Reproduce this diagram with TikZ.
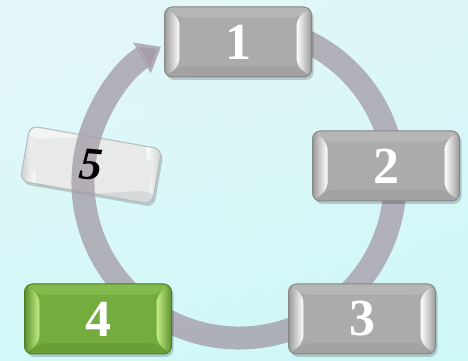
\documentclass[tikz,border=0pt]{standalone}
\usepackage{fontspec}
\setmainfont{Liberation Serif}
\usetikzlibrary{arrows.meta,shadows,shadings}

\definecolor{bgA}{HTML}{E6F6F8}
\definecolor{bgB}{HTML}{DDF6F7}
\definecolor{bgC}{HTML}{D3F8F8}
\definecolor{bgD}{HTML}{CEF7F7}
\definecolor{ringcol}{HTML}{A69FAA}
\definecolor{greyface}{HTML}{ABABAB}
\definecolor{greytop}{HTML}{B6B6B6}
\definecolor{greybot}{HTML}{A2A2A2}
\definecolor{greyside}{HTML}{9A9A9A}
\definecolor{greyedge}{HTML}{878787}
\definecolor{leafface}{HTML}{74AC3E}
\definecolor{leaftop}{HTML}{82BA4B}
\definecolor{leafbot}{HTML}{6A9F36}
\definecolor{leafside}{HTML}{5F9130}
\definecolor{leaflight}{HTML}{C4EE86}
\definecolor{leafedge}{HTML}{4E7D23}
\definecolor{paleface}{HTML}{E8EAEA}
\definecolor{paletop}{HTML}{F3F4F4}
\definecolor{palebot}{HTML}{D6D9D9}
\definecolor{paleside}{HTML}{CBCFCF}
\definecolor{paleedge}{HTML}{B5BABA}

\tikzset{
	bevel/.style n args={5}{
		fill=#1,
		path picture={
			\coordinate (o1) at (path picture bounding box.north west);
			\coordinate (o2) at (path picture bounding box.north east);
			\coordinate (o3) at (path picture bounding box.south east);
			\coordinate (o4) at (path picture bounding box.south west);
			\coordinate (i1) at ([shift={(15pt,-11pt)}]o1);
			\coordinate (i2) at ([shift={(-15pt,-11pt)}]o2);
			\coordinate (i3) at ([shift={(-15pt,11pt)}]o3);
			\coordinate (i4) at ([shift={(15pt,11pt)}]o4);
			\fill[#2] (o1) -- (o2) -- (i2) -- (i1) -- cycle;
			\fill[#3] (o4) -- (o3) -- (i3) -- (i4) -- cycle;
			\shade[left color=#4, right color=#5] (o1) -- (i1) -- (i4) -- (o4) -- cycle;
			\shade[left color=#5, right color=#4] (o2) -- (i2) -- (i3) -- (o3) -- cycle;
			\fill[#1] (i1) rectangle (i3);
		}
	},
	keybox/.style={rounded corners=8pt, minimum width=147pt, minimum height=70pt,
		inner sep=0pt, line width=1pt, text=white,
		font=\fontsize{52}{52}\selectfont\bfseries,
		drop shadow={shadow xshift=2pt, shadow yshift=-3pt, opacity=.18, fill=black}},
	greykey/.style={keybox, draw=greyedge, bevel={greyface}{greytop}{greybot}{greyside}{white}},
	leafkey/.style={keybox, draw=leafedge, bevel={leafface}{leaftop}{leafbot}{leafside}{leaflight}},
	palekey/.style={keybox, minimum width=134pt, minimum height=56pt, draw=paleedge,
		bevel={paleface}{paletop}{palebot}{paleside}{white}}
}

\begin{document}
\begin{tikzpicture}[x=1pt, y=1pt]
		\shade[upper left=bgA, upper right=bgB, lower left=bgC, lower right=bgD] (0,0) rectangle (468,361);
		\useasboundingbox (0,0) rectangle (468,361);
		\coordinate (hub) at (239,179);

		\node[palekey, rotate=-10] (k5) at (91,196) {};

		\draw[line width=23pt, ringcol, draw opacity=.8, -{Triangle[length=22pt, width=34pt]}]
			([shift={(75:156)}]hub) arc[start angle=75, end angle=-240, radius=156];

		\node[greykey] (k1) at (238,319) {1};
		\node[greykey] (k2) at (386,195) {2};
		\node[greykey] (k3) at (362,42) {3};
		\node[leafkey] (k4) at (98,42) {4};
		\node[rotate=-5, font=\fontsize{46}{46}\selectfont\bfseries\itshape] (n5) at (k5) {5};
	\end{tikzpicture}
\end{document}
